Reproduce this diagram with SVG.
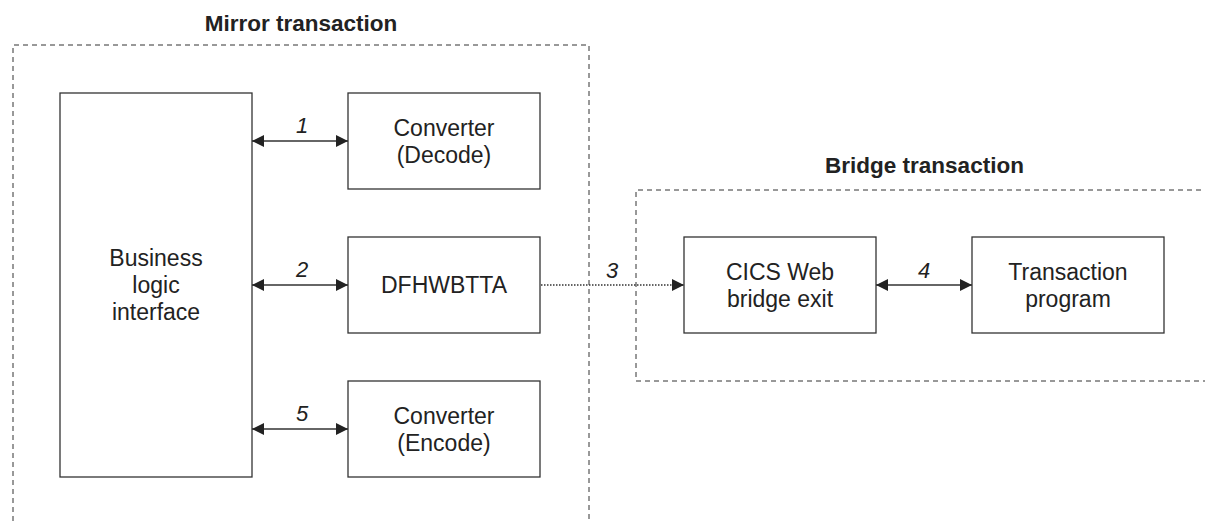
<svg xmlns="http://www.w3.org/2000/svg" width="1205" height="523" viewBox="0 0 1205 523">
<style>
  .box { fill: #fff; stroke: #333; stroke-width: 1.3; }
  .grp { fill: none; stroke: #333; stroke-width: 1; stroke-dasharray: 5 4; }
  .lbl { font-family: "Liberation Sans", Arial, sans-serif; font-size: 23px; fill: #222; text-anchor: middle; }
  .ttl { font-family: "Liberation Sans", Arial, sans-serif; font-size: 22.5px; font-weight: bold; fill: #222; text-anchor: middle; }
  .num { font-family: "Liberation Sans", Arial, sans-serif; font-size: 22px; font-style: italic; fill: #222; text-anchor: middle; }
  .conn { stroke: #333; stroke-width: 1.3; fill: none; }
  .dot { stroke: #333; stroke-width: 1.3; fill: none; stroke-dasharray: 1.5 1.5; }
</style>
<defs>
  <marker id="ah" markerUnits="userSpaceOnUse" markerWidth="13" markerHeight="13" refX="12" refY="6" orient="auto-start-reverse">
    <path d="M0,0 L12,6 L0,12 z" fill="#222"/>
  </marker>
</defs>
<rect width="1205" height="523" fill="#fff"/>

<g id="mirror-transaction">
  <path class="grp" d="M13,530 L13,45 L589,45 L589,530"/>
  <text class="ttl" x="301" y="31">Mirror transaction</text>
</g>
<g id="bridge-transaction">
  <path class="grp" d="M1210,190 L636,190 L636,381 L1210,381"/>
  <text class="ttl" x="924.5" y="173">Bridge transaction</text>
</g>

<g id="business-logic-interface">
  <rect class="box" x="60" y="93" width="192" height="384"/>
  <text class="lbl" x="156" y="266">Business</text>
  <text class="lbl" x="156" y="293">logic</text>
  <text class="lbl" x="156" y="320">interface</text>
</g>
<g id="converter-decode">
  <rect class="box" x="348" y="93" width="192" height="96"/>
  <text class="lbl" x="444" y="136">Converter</text>
  <text class="lbl" x="444" y="163">(Decode)</text>
</g>
<g id="dfhwbtta">
  <rect class="box" x="348" y="237" width="192" height="96"/>
  <text class="lbl" x="444" y="293">DFHWBTTA</text>
</g>
<g id="converter-encode">
  <rect class="box" x="348" y="381" width="192" height="96"/>
  <text class="lbl" x="444" y="424">Converter</text>
  <text class="lbl" x="444" y="451">(Encode)</text>
</g>
<g id="cics-web-bridge-exit">
  <rect class="box" x="684" y="237" width="192" height="96"/>
  <text class="lbl" x="780" y="280">CICS Web</text>
  <text class="lbl" x="780" y="307">bridge exit</text>
</g>
<g id="transaction-program">
  <rect class="box" x="972" y="237" width="192" height="96"/>
  <text class="lbl" x="1068" y="280">Transaction</text>
  <text class="lbl" x="1068" y="307">program</text>
</g>

<g id="connectors">
  <line class="conn" x1="252" y1="141" x2="348" y2="141" marker-start="url(#ah)" marker-end="url(#ah)"/>
  <text class="num" x="302" y="133">1</text>
  <line class="conn" x1="252" y1="285" x2="348" y2="285" marker-start="url(#ah)" marker-end="url(#ah)"/>
  <text class="num" x="302" y="277">2</text>
  <line class="conn" x1="252" y1="429" x2="348" y2="429" marker-start="url(#ah)" marker-end="url(#ah)"/>
  <text class="num" x="302" y="421">5</text>
  <line class="dot" x1="541" y1="285" x2="684" y2="285" marker-end="url(#ah)"/>
  <text class="num" x="612" y="278">3</text>
  <line class="conn" x1="876" y1="285" x2="972" y2="285" marker-start="url(#ah)" marker-end="url(#ah)"/>
  <text class="num" x="924" y="278">4</text>
</g>
</svg>
